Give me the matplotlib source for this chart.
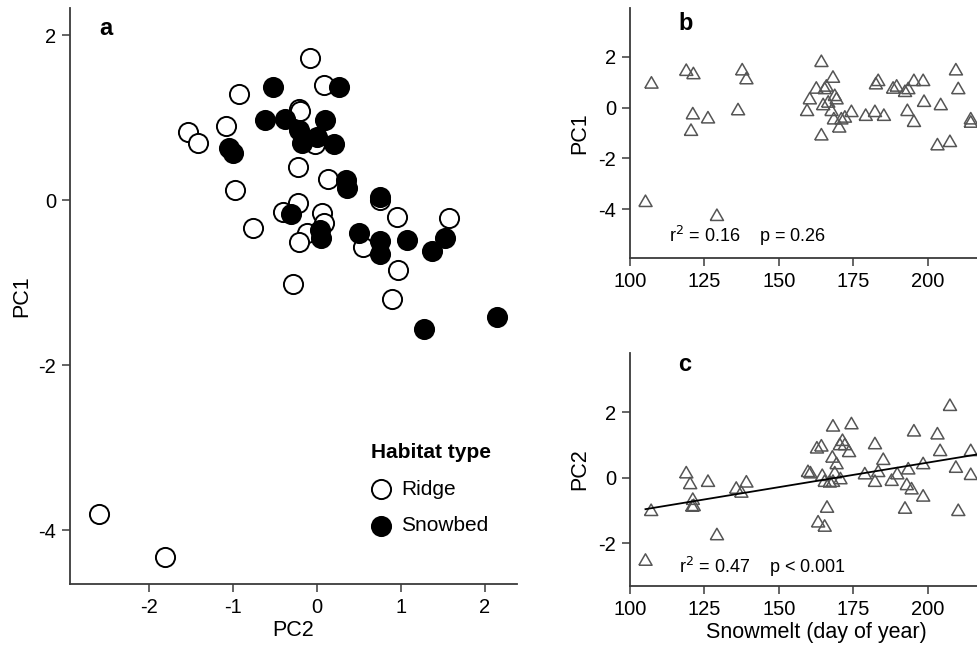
import matplotlib
matplotlib.use("Agg")
import matplotlib.pyplot as plt
import numpy as np

plt.rcParams['font.family'] = ['Liberation Sans', 'DejaVu Sans']
plt.rcParams['axes.unicode_minus'] = False

# panel a: PCA scores by habitat
ridge_pc2 = [-0.08, 0.08, -0.93, -0.21, -0.20, -1.08, -1.54, -1.42, -0.02, -0.23,
             0.13, -0.98, 0.75, -0.23, -0.40, 0.06, 0.96, 1.57, -0.76, 0.08,
             -0.12, -0.21, 0.55, 0.97, -0.28, 0.89, -2.60, -1.81]
ridge_pc1 = [1.73, 1.40, 1.29, 1.11, 1.08, 0.90, 0.83, 0.70, 0.68, 0.40,
             0.26, 0.13, 0.01, -0.03, -0.14, -0.15, -0.20, -0.21, -0.34, -0.27,
             -0.40, -0.50, -0.56, -0.85, -1.01, -1.20, -3.80, -4.32]
snow_pc2 = [-0.52, 0.26, -0.62, -0.38, 0.10, -0.21, 0.00, -0.18, 0.21, -1.05,
            -1.00, 0.35, 0.36, 0.75, -0.31, 0.04, 0.05, 0.50, 0.75, 0.75,
            1.07, 1.53, 1.37, 2.14, 1.28]
snow_pc1 = [1.38, 1.38, 0.98, 0.99, 0.98, 0.85, 0.77, 0.69, 0.68, 0.63,
            0.57, 0.25, 0.15, 0.04, -0.17, -0.36, -0.46, -0.40, -0.49, -0.65,
            -0.48, -0.46, -0.61, -1.41, -1.56]

# panel b: PC1 vs snowmelt day
b_day = [105.2, 107.2, 118.9, 121.3, 120.5, 121.1, 126.2, 129.2, 136.3, 137.7,
         139.1, 159.5, 160.4, 162.6, 164.3, 164.3, 164.9, 166.0, 165.4, 166.6,
         168.2, 168.8, 167.7, 168.5, 169.4, 171.0, 170.3, 172.2, 174.4, 179.2,
         182.3, 182.6, 183.4, 185.3, 188.4, 189.6, 192.4, 193.5, 193.2, 195.4,
         195.4, 198.5, 198.8, 204.4, 203.3, 207.5, 209.5, 210.3, 214.5, 214.5]
b_pc1 = [-3.74, 0.92, 1.42, 1.29, -0.94, -0.29, -0.45, -4.29, -0.13, 1.44,
         1.09, -0.16, 0.30, 0.72, 1.77, -1.12, 0.07, 0.80, 0.70, 0.17,
         1.15, 0.43, -0.16, -0.49, 0.30, -0.49, -0.81, -0.42, -0.20, -0.35,
         -0.20, 0.89, 1.02, -0.35, 0.72, 0.80, 0.59, 0.70, -0.16, 1.02,
         -0.59, 1.02, 0.20, 0.07, -1.51, -1.38, 1.44, 0.70, -0.49, -0.62]

# panel c: PC2 vs snowmelt day
c_day = [105.2, 107.1, 118.9, 120.2, 121.1, 120.9, 121.4, 126.2, 129.2, 135.7,
         137.4, 139.1, 159.8, 160.6, 162.8, 164.3, 163.2, 165.4, 164.6, 165.4,
         166.2, 167.1, 168.0, 168.2, 168.2, 168.8, 169.4, 170.5, 171.4, 172.2,
         170.7, 173.6, 174.4, 178.9, 182.3, 182.3, 183.4, 185.1, 187.9, 189.8,
         192.4, 193.0, 193.5, 194.6, 195.4, 198.5, 198.5, 203.3, 204.2, 207.5,
         209.5, 210.3, 214.5, 214.5]
c_pc2 = [-2.56, -1.04, 0.11, -0.22, -0.70, -0.91, -0.89, -0.15, -1.78, -0.36,
         -0.48, -0.17, 0.15, 0.11, 0.87, 0.93, -1.39, -1.52, 0.03, -0.15,
         -0.94, -0.17, 0.59, 1.54, -0.15, 0.11, 0.39, 0.97, 1.10, 0.97,
         -0.07, 0.76, 1.61, 0.08, 1.00, -0.15, 0.15, 0.52, -0.12, 0.08,
         -0.97, -0.25, 0.23, -0.38, 1.39, -0.60, 0.39, 1.30, 0.79, 2.17,
         0.28, -1.04, 0.79, 0.06]

# fitted line (intercept at day 100, slope per day)
fit_intercept = -1.041
fit_slope = 0.015

spine_col = '#3a3a3a'
tri_col = '#555555'
# equilateral open triangle, closed path
tri = [(-1, -0.577), (1, -0.577), (0, 1.155), (-1, -0.577)]


def style_axes(ax):
    for s in ['top', 'right']:
        ax.spines[s].set_visible(False)
    for s in ['left', 'bottom']:
        ax.spines[s].set_color(spine_col)
        ax.spines[s].set_linewidth(1.3)
    ax.tick_params(direction='out', length=6, width=1.1, color=spine_col,
                   labelsize=14.5, pad=4)


fig = plt.figure(figsize=(9.78, 6.5), dpi=100)

# ---- panel a
ax = fig.add_axes([0.0716, 0.1015, 0.4567, 0.886])
ax.scatter(ridge_pc2, ridge_pc1, s=190, facecolors='white', edgecolors='black',
           linewidths=1.4, label='Ridge', zorder=3)
ax.scatter(snow_pc2, snow_pc1, s=190, facecolors='black', edgecolors='black',
           linewidths=1.4, label='Snowbed', zorder=3)
ax.set_xlim(-2.94, 2.38)
ax.set_ylim(-4.65, 2.33)
ax.set_xticks([-2, -1, 0, 1, 2])
ax.set_yticks([-4, -2, 0, 2])
style_axes(ax)
ax.set_xlabel('PC2', fontsize=15.5, labelpad=2)
ax.set_ylabel('PC1', fontsize=15.5, labelpad=4)
ax.text(0.065, 0.985, 'a', transform=ax.transAxes, fontsize=17, fontweight='bold',
        va='top', ha='left')
leg = ax.legend(loc='lower left', bbox_to_anchor=(0.655, 0.07), frameon=False,
                title='Habitat type', fontsize=15,
                title_fontproperties={'size': 15, 'weight': 'bold'},
                handlelength=1.0, handletextpad=0.45, labelspacing=0.85,
                borderaxespad=0)
leg._legend_box.align = 'left'

# ---- panel b
x_left = 630 / 978
ax_w = (1002 - 630) / 978
axb = fig.add_axes([x_left, 0.6026, ax_w, 0.3846])
axb.scatter(b_day, b_pc1, s=120, marker=tri, facecolors='none', edgecolors=tri_col,
            linewidths=1.1, zorder=3)
axb.set_xlim(100, 225)
axb.set_ylim(-5.93, 3.91)
axb.set_xticks([100, 125, 150, 175, 200])
axb.set_yticks([-4, -2, 0, 2])
style_axes(axb)
axb.set_ylabel('PC1', fontsize=15.5, labelpad=6)
axb.text(0.13, 0.985, 'b', transform=axb.transAxes, fontsize=17, fontweight='bold',
         va='top', ha='left')
axb.text(113, -5.3, r'r$^2$ = 0.16    p = 0.26', fontsize=13)

# ---- panel c
axc = fig.add_axes([x_left, 0.0985, ax_w, 0.358])
axc.scatter(c_day, c_pc2, s=120, marker=tri, facecolors='none', edgecolors=tri_col,
            linewidths=1.1, zorder=3)
line_x = np.array([min(c_day), max(c_day) + 3])
axc.plot(line_x, fit_intercept + fit_slope * (line_x - 100), color='black', lw=1.3, zorder=4)
axc.set_xlim(100, 225)
axc.set_ylim(-3.31, 3.80)
axc.set_xticks([100, 125, 150, 175, 200])
axc.set_yticks([-2, 0, 2])
style_axes(axc)
axc.set_ylabel('PC2', fontsize=15.5, labelpad=6)
axc.set_xlabel('Snowmelt (day of year)', fontsize=15.5, labelpad=2)
axc.text(0.13, 1.0, 'c', transform=axc.transAxes, fontsize=17, fontweight='bold',
         va='top', ha='left')
axc.text(116.5, -2.9, r'r$^2$ = 0.47    p < 0.001', fontsize=13)

fig.savefig('out.png', dpi=100)
